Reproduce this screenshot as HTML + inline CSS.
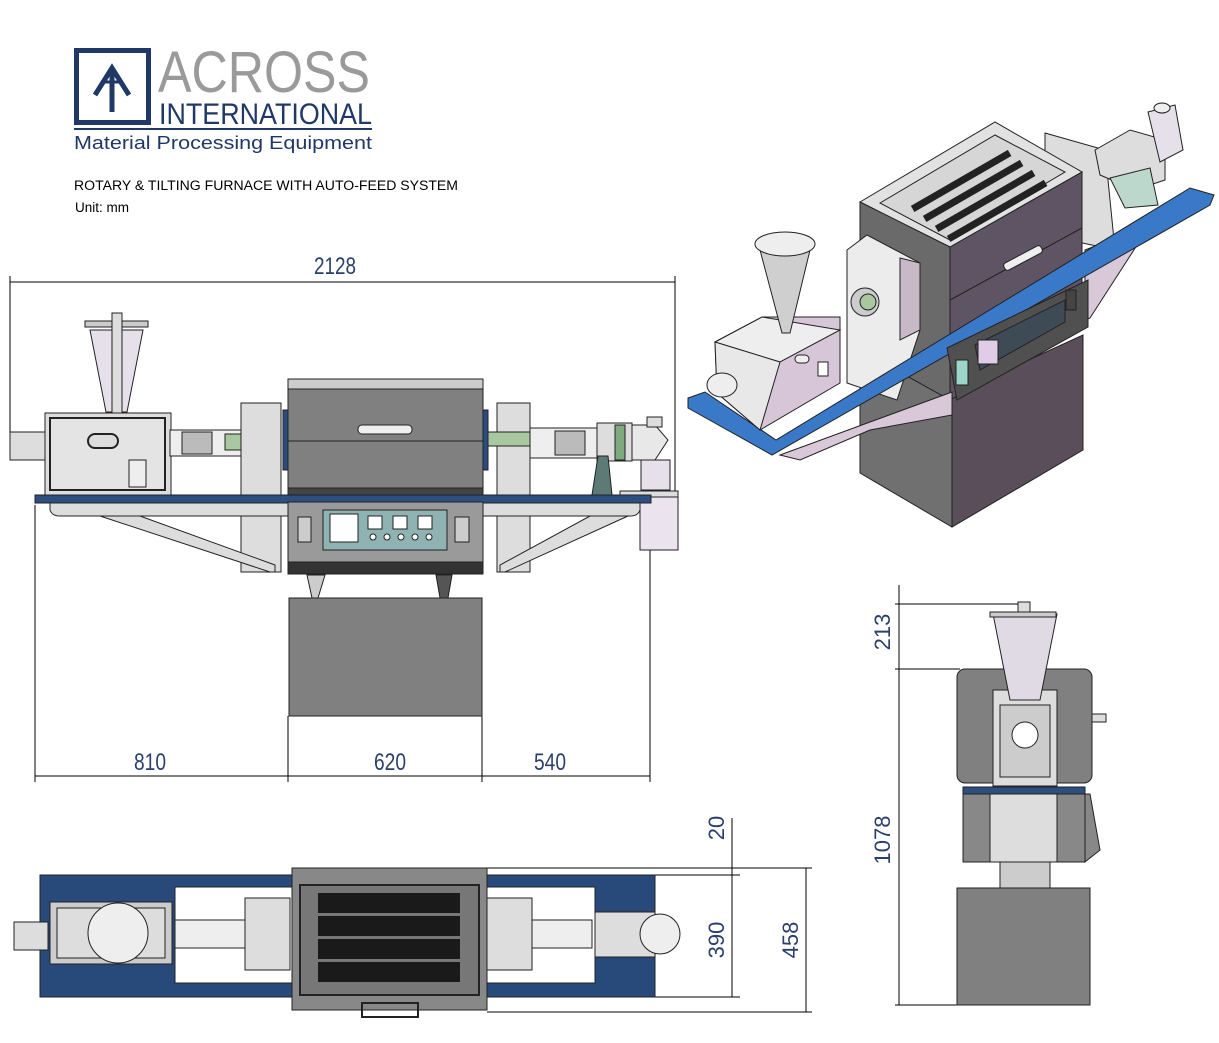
<!DOCTYPE html>
<html><head><meta charset="utf-8"><style>
html,body{margin:0;padding:0;background:#fff}
svg{display:block}
text{font-family:"Liberation Sans",sans-serif}
</style></head><body>
<svg width="1219" height="1043" viewBox="0 0 1219 1043" xmlns="http://www.w3.org/2000/svg">
<!-- LOGO -->
<rect x="76.5" y="50.5" width="72" height="72" fill="none" stroke="#1f3866" stroke-width="5"/>
<path d="M95 95 L112 68 L129 95" fill="none" stroke="#1f3866" stroke-width="5"/>
<line x1="112" y1="70" x2="112" y2="112" stroke="#1f3866" stroke-width="5"/>
<line x1="102" y1="82" x2="122" y2="82" stroke="#1f3866" stroke-width="3"/>
<text x="158" y="92" font-size="58" fill="#9a9a9a" textLength="212" lengthAdjust="spacingAndGlyphs">ACROSS</text>
<text x="159" y="124" font-size="30" fill="#1f3866" textLength="213" lengthAdjust="spacingAndGlyphs">INTERNATIONAL</text>
<rect x="74" y="128" width="298" height="2" fill="#1f3866"/>
<text x="74" y="149" font-size="18" fill="#1f3866" textLength="298" lengthAdjust="spacingAndGlyphs">Material Processing Equipment</text>
<text x="74" y="190" font-size="13.5" fill="#000" textLength="384" lengthAdjust="spacingAndGlyphs">ROTARY &amp; TILTING FURNACE WITH AUTO-FEED SYSTEM</text>
<text x="75" y="212" font-size="13.5" fill="#000">Unit: mm</text>

<!-- FRONT VIEW -->
<g stroke="#000" stroke-width="1" fill="none">
<line x1="10" y1="276" x2="10" y2="432"/><line x1="675" y1="276" x2="675" y2="540"/>
<line x1="10" y1="282" x2="675" y2="282"/>
<line x1="35" y1="505" x2="35" y2="782"/><line x1="288" y1="716" x2="288" y2="782"/>
<line x1="482" y1="716" x2="482" y2="782"/><line x1="650" y1="545" x2="650" y2="782"/>
<line x1="35" y1="776" x2="650" y2="776"/>
</g>
<text x="335" y="274" font-size="24" fill="#2a3f6b" text-anchor="middle" textLength="42" lengthAdjust="spacingAndGlyphs">2128</text>
<text x="150" y="770" font-size="24" fill="#2a3f6b" text-anchor="middle" textLength="32" lengthAdjust="spacingAndGlyphs">810</text>
<text x="390" y="770" font-size="24" fill="#2a3f6b" text-anchor="middle" textLength="32" lengthAdjust="spacingAndGlyphs">620</text>
<text x="550" y="770" font-size="24" fill="#2a3f6b" text-anchor="middle" textLength="32" lengthAdjust="spacingAndGlyphs">540</text>

<g stroke="#222" stroke-width="1">
<rect x="85" y="321" width="63" height="6" fill="#ccc"/>
<polygon points="90,330 143,330 127,412 106,412" fill="#e6e0ea"/>
<rect x="112" y="313" width="10" height="100" fill="#ddd"/>
<rect x="45" y="413" width="126" height="83" fill="#ddd"/>
<rect x="50" y="418" width="115" height="72" fill="#e4e4e4" stroke-width="2"/>
<rect x="88" y="434" width="30" height="14" rx="7" fill="#ddd" stroke-width="2"/>
<rect x="129" y="460" width="17" height="27" fill="#eee"/>
<rect x="10" y="432" width="35" height="28" fill="#ddd"/>
<rect x="170" y="430" width="72" height="26" fill="#eee"/>
<rect x="182" y="432" width="30" height="22" fill="#bbb"/>
<rect x="225" y="434" width="20" height="16" fill="#a8c8a0"/>
<rect x="241" y="403" width="40" height="169" fill="#ddd"/>
<rect x="497" y="403" width="33" height="169" fill="#ddd"/>
<rect x="288" y="379" width="195" height="10" fill="#ccc"/>
<rect x="288" y="389" width="195" height="52" fill="#808080"/>
<rect x="288" y="441" width="195" height="47" fill="#808080"/>
<rect x="288" y="488" width="195" height="9" fill="#444"/>
<rect x="358" y="425" width="54" height="9" rx="4" fill="#eee"/>
<rect x="283" y="410" width="5" height="60" fill="#2a4c80"/>
<rect x="483" y="410" width="5" height="60" fill="#2a4c80"/>
<rect x="488" y="432" width="45" height="14" fill="#a8c8a0"/>
<rect x="530" y="428" width="70" height="30" fill="#eee"/>
<rect x="555" y="431" width="30" height="24" fill="#bbb"/>
<rect x="597" y="423" width="35" height="38" fill="#ddd"/>
<rect x="615" y="425" width="10" height="35" fill="#7faa7f"/>
<polygon points="632,425 655,425 668,440 655,460 632,460" fill="#e8e8e8"/>
<rect x="647" y="417" width="15" height="10" fill="#ddd"/>
<rect x="641" y="460" width="29" height="30" fill="#e6e0ea"/>
<rect x="620" y="491" width="58" height="6" fill="#ddd"/>
<rect x="640" y="497" width="38" height="53" fill="#ebe3ee"/>
<polygon points="598,456 608,456 612,495 592,495" fill="#5c7a76"/>
<rect x="35" y="495" width="616" height="8" fill="#2d4f80"/>
<path d="M50 503 L640 503 L640 510 Q638 516 630 516 L60 516 Q52 516 50 510 Z" fill="#ddd"/>
<polygon points="100,516 140,516 275,565 275,572 270,572" fill="#ddd"/>
<polygon points="628,516 590,516 500,565 500,572 505,572" fill="#ddd"/>
<rect x="288" y="502" width="195" height="70" fill="#9a9a9a"/>
<rect x="298" y="517" width="13" height="25" fill="#ccc"/>
<rect x="323" y="510" width="124" height="40" fill="#8fb3b3"/>
<rect x="330" y="514" width="28" height="28" fill="#fff"/>
<rect x="368" y="516" width="14" height="13" fill="#fff"/>
<rect x="393" y="516" width="14" height="13" fill="#fff"/>
<rect x="418" y="516" width="14" height="13" fill="#fff"/>
<rect x="455" y="517" width="14" height="25" fill="#ccc"/>
<rect x="288" y="562" width="195" height="12" fill="#333"/>
<polygon points="307,575 325,575 318,598 312,598" fill="#ccc"/>
<polygon points="436,575 452,575 448,598 440,598" fill="#555"/>
<rect x="289" y="598" width="193" height="118" fill="#808080"/>
</g>
<g fill="#fff" stroke="#222"><circle cx="373" cy="537" r="3"/><circle cx="387" cy="537" r="3"/><circle cx="401" cy="537" r="3"/><circle cx="415" cy="537" r="3"/><circle cx="429" cy="537" r="3"/></g>

<!-- ISO VIEW -->
<g stroke="#222" stroke-width="1">
<!-- pedestal -->
<polygon points="860,347 952,395 952,527 860,473" fill="#707070"/>
<polygon points="952,395 1083,335 1083,450 952,527" fill="#5b4e5b"/>
<!-- back white unit -->
<polygon points="1045,133 1105,150 1115,250 1045,235" fill="#ddd"/>
<!-- furnace -->
<polygon points="860,202 995,122 1082,172 950,247" fill="#e2e2e2"/>
<polygon points="880,203 995,135 1065,172 950,240" fill="#d6d6d6"/>
<polygon points="860,202 950,247 950,400 860,350" fill="#6a6a6a"/>
<polygon points="950,247 1082,172 1082,330 950,400" fill="#5e5463"/>
<line x1="950" y1="300" x2="1082" y2="228"/>
<rect x="1002" y="254" width="42" height="8" rx="3" fill="#eee" transform="rotate(-28 1023 258)"/>
<!-- white block -->
<polygon points="847,250 867,235 920,263 920,330 897,400 847,383" fill="#ececec"/>
<polygon points="900,258 920,263 920,330 900,340" fill="#c8b8c8"/>
<circle cx="865" cy="302" r="14" fill="#ccc"/>
<circle cx="868" cy="302" r="8" fill="#a8c8a0"/>
<!-- frame underneath -->
<polygon points="780,455 952,392 952,415 870,430 800,460" fill="#d8c8d8"/>
<polygon points="1085,250 1150,225 1090,318 1085,320" fill="#d8c8d8"/>
<!-- blue plate -->
<polygon points="688,398 705,392 776,440 1190,188 1214,195 1210,205 772,455 688,408" fill="#3a78c8"/>
<!-- control panel -->
<polygon points="947,348 1088,280 1088,327 957,400" fill="#505050"/>
<polygon points="975,345 1065,300 1065,322 980,370" fill="#3e4b56"/>
<rect x="978" y="340" width="20" height="24" fill="#e0cce6"/>
<rect x="956" y="360" width="12" height="25" fill="#9dd4cc"/>
<rect x="1066" y="290" width="10" height="20" fill="#444"/>
<!-- feeder -->
<polygon points="715,342 762,317 840,317 840,383 760,430 717,393" fill="#d6c6d8"/>
<polygon points="715,342 762,317 840,330 780,362" fill="#eee"/>
<polygon points="715,342 780,362 760,430 717,393" fill="#e8e8e8"/>
<polygon points="760,250 810,250 790,333 782,333" fill="#cfcfcf"/>
<ellipse cx="785" cy="244" rx="30" ry="12" fill="#eee"/>
<ellipse cx="722" cy="385" rx="15" ry="12" fill="#eee"/>
<rect x="795" y="355" width="14" height="8" rx="4" fill="#eee"/>
<rect x="818" y="362" width="10" height="14" fill="#fff"/>
<!-- right assembly -->
<polygon points="1095,150 1130,130 1165,140 1165,180 1135,190 1100,175" fill="#ddd"/>
<polygon points="1148,112 1175,105 1183,150 1160,162" fill="#e6e0ea"/>
<ellipse cx="1162" cy="108" rx="8" ry="5" fill="#eee"/>
<polygon points="1110,178 1150,168 1158,205 1125,208" fill="#bcd8cc"/>
</g>
<g fill="#222">
<rect x="905" y="178" width="112" height="7" transform="rotate(-30 960 181)"/>
<rect x="917" y="188" width="112" height="7" transform="rotate(-30 972 191)"/>
<rect x="929" y="198" width="112" height="7" transform="rotate(-30 984 201)"/>
<rect x="941" y="208" width="112" height="7" transform="rotate(-30 996 211)"/>
</g>

<!-- TOP VIEW -->
<g stroke="#000" stroke-width="1" fill="none">
<line x1="487" y1="868" x2="812" y2="868"/><line x1="655" y1="875" x2="740" y2="875"/>
<line x1="655" y1="997" x2="740" y2="997"/><line x1="487" y1="1012" x2="812" y2="1012"/>
<line x1="732" y1="818" x2="732" y2="997"/><line x1="806" y1="868" x2="806" y2="1012"/>
</g>
<text transform="translate(724,828) rotate(-90)" font-size="22" fill="#2a3f6b" text-anchor="middle">20</text>
<text transform="translate(724,940) rotate(-90)" font-size="22" fill="#2a3f6b" text-anchor="middle">390</text>
<text transform="translate(798,940) rotate(-90)" font-size="22" fill="#2a3f6b" text-anchor="middle">458</text>
<g stroke="#222" stroke-width="1">
<rect x="40" y="875" width="615" height="122" fill="#284a7a"/>
<rect x="175" y="887" width="420" height="96" fill="#fff"/>
<rect x="50" y="902" width="122" height="62" fill="#ccc"/>
<rect x="57" y="908" width="108" height="50" fill="#ddd"/>
<circle cx="118" cy="933" r="30" fill="#eee"/>
<rect x="14" y="922" width="34" height="28" fill="#ddd"/>
<rect x="175" y="920" width="70" height="28" fill="#eee"/>
<rect x="245" y="898" width="45" height="72" fill="#ddd"/>
<rect x="487" y="898" width="45" height="72" fill="#ddd"/>
<rect x="532" y="920" width="60" height="28" fill="#eee"/>
<rect x="595" y="912" width="60" height="45" fill="#ddd"/>
<circle cx="660" cy="934" r="20" fill="#eee"/>
<rect x="292" y="868" width="195" height="142" fill="#888"/>
<rect x="300" y="885" width="179" height="110" fill="#777" stroke-width="2"/>
<rect x="362" y="1003" width="56" height="14" fill="none" stroke-width="2"/>
</g>
<g fill="#1a1a1a">
<rect x="318" y="893" width="142" height="20"/><rect x="318" y="916" width="142" height="20"/>
<rect x="318" y="939" width="142" height="20"/><rect x="318" y="962" width="142" height="20"/>
</g>

<!-- SIDE VIEW -->
<g stroke="#000" stroke-width="1" fill="none">
<line x1="899" y1="585" x2="899" y2="1005"/>
<line x1="895" y1="604" x2="1030" y2="604"/>
<line x1="895" y1="669" x2="960" y2="669"/>
<line x1="895" y1="1005" x2="960" y2="1005"/>
</g>
<text transform="translate(890,632) rotate(-90)" font-size="22" fill="#2a3f6b" text-anchor="middle">213</text>
<text transform="translate(890,840) rotate(-90)" font-size="22" fill="#2a3f6b" text-anchor="middle">1078</text>
<g stroke="#222" stroke-width="1">
<rect x="957" y="669" width="135" height="114" rx="8" fill="#808080"/>
<rect x="993" y="690" width="64" height="96" fill="#ddd"/>
<rect x="1000" y="705" width="50" height="72" fill="#ccc"/>
<circle cx="1025" cy="735" r="13" fill="#fff"/>
<polygon points="993,614 1057,614 1040,700 1010,700" fill="#e0dae4"/>
<rect x="990" y="612" width="66" height="5" fill="#ccc"/>
<rect x="1018" y="602" width="12" height="10" fill="#ddd"/>
<rect x="1092" y="714" width="14" height="8" fill="#ddd"/>
<rect x="963" y="787" width="122" height="7" fill="#2d4f80"/>
<rect x="963" y="794" width="122" height="68" fill="#888"/>
<rect x="990" y="794" width="67" height="68" fill="#ddd"/>
<polygon points="1085,794 1090,794 1100,850 1085,862" fill="#888"/>
<rect x="1000" y="862" width="50" height="26" fill="#ccc"/>
<rect x="957" y="888" width="133" height="117" fill="#808080"/>
</g>
</svg>
</body></html>
